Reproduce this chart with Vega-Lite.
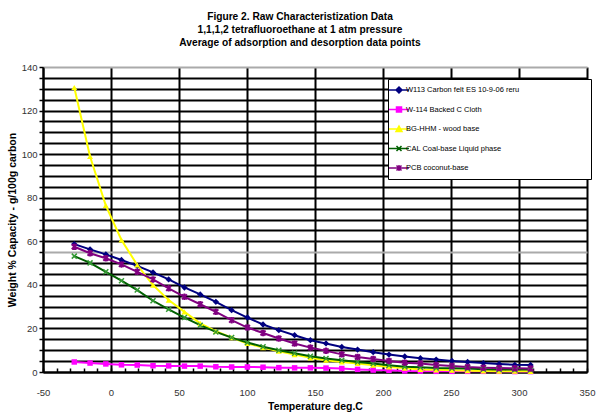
{
  "$schema": "https://vega.github.io/schema/vega-lite/v6.json",
  "width": 544,
  "height": 305,
  "autosize": {"type": "none"},
  "padding": {"left": 43, "top": 67, "right": 13, "bottom": 41},
  "background": "white",
  "config": {"view": {"stroke": null}, "font": "Liberation Sans"},
  "title": {
    "text": ["Figure 2. Raw Characteristization Data", "1,1,1,2 tetrafluoroethane at 1 atm pressure", "Average of adsorption and desorption data points"],
    "fontSize": 10.2, "fontWeight": "bold", "font": "Liberation Sans", "color": "black",
    "anchor": "middle", "frame": "group", "dx": -15, "offset": 14, "lineHeight": 13
  },
  "data": {"values": [
    {"t": -27, "W113 Carbon felt ES 10-9-06 reru": 58.7, "W-114 Backed C Cloth": 4.6, "BG-HHM - wood base": 130.6, "CAL Coal-base Liquid phase": 53.2, "PCB coconut-base": 57.5},
    {"t": -15.4, "W113 Carbon felt ES 10-9-06 reru": 56.3, "W-114 Backed C Cloth": 4.1, "BG-HHM - wood base": 98.9, "CAL Coal-base Liquid phase": 50.1, "PCB coconut-base": 54.5},
    {"t": -3.8, "W113 Carbon felt ES 10-9-06 reru": 54.0, "W-114 Backed C Cloth": 3.7, "BG-HHM - wood base": 76.4, "CAL Coal-base Liquid phase": 46.0, "PCB coconut-base": 52.2},
    {"t": 7.7, "W113 Carbon felt ES 10-9-06 reru": 51.4, "W-114 Backed C Cloth": 3.3, "BG-HHM - wood base": 60.6, "CAL Coal-base Liquid phase": 41.9, "PCB coconut-base": 49.4},
    {"t": 19.3, "W113 Carbon felt ES 10-9-06 reru": 48.7, "W-114 Backed C Cloth": 3.2, "BG-HHM - wood base": 49.1, "CAL Coal-base Liquid phase": 37.6, "PCB coconut-base": 46.0},
    {"t": 30.9, "W113 Carbon felt ES 10-9-06 reru": 45.7, "W-114 Backed C Cloth": 2.9, "BG-HHM - wood base": 39.9, "CAL Coal-base Liquid phase": 32.7, "PCB coconut-base": 42.5},
    {"t": 42.4, "W113 Carbon felt ES 10-9-06 reru": 42.5, "W-114 Backed C Cloth": 2.8, "BG-HHM - wood base": 33.0, "CAL Coal-base Liquid phase": 28.8, "PCB coconut-base": 38.4},
    {"t": 54.0, "W113 Carbon felt ES 10-9-06 reru": 38.8, "W-114 Backed C Cloth": 2.7, "BG-HHM - wood base": 27.6, "CAL Coal-base Liquid phase": 25.0, "PCB coconut-base": 34.5},
    {"t": 65.6, "W113 Carbon felt ES 10-9-06 reru": 35.6, "W-114 Backed C Cloth": 2.7, "BG-HHM - wood base": 22.3, "CAL Coal-base Liquid phase": 21.5, "PCB coconut-base": 31.1},
    {"t": 77.1, "W113 Carbon felt ES 10-9-06 reru": 32.2, "W-114 Backed C Cloth": 2.4, "BG-HHM - wood base": 18.7, "CAL Coal-base Liquid phase": 18.4, "PCB coconut-base": 27.6},
    {"t": 88.7, "W113 Carbon felt ES 10-9-06 reru": 28.4, "W-114 Backed C Cloth": 2.3, "BG-HHM - wood base": 15.8, "CAL Coal-base Liquid phase": 15.8, "PCB coconut-base": 23.8},
    {"t": 100.3, "W113 Carbon felt ES 10-9-06 reru": 25.0, "W-114 Backed C Cloth": 2.3, "BG-HHM - wood base": 13.1, "CAL Coal-base Liquid phase": 13.5, "PCB coconut-base": 20.4},
    {"t": 111.8, "W113 Carbon felt ES 10-9-06 reru": 21.8, "W-114 Backed C Cloth": 2.2, "BG-HHM - wood base": 11.2, "CAL Coal-base Liquid phase": 11.6, "PCB coconut-base": 17.9},
    {"t": 123.4, "W113 Carbon felt ES 10-9-06 reru": 19.2, "W-114 Backed C Cloth": 2.0, "BG-HHM - wood base": 9.5, "CAL Coal-base Liquid phase": 10.0, "PCB coconut-base": 15.4},
    {"t": 135.0, "W113 Carbon felt ES 10-9-06 reru": 16.9, "W-114 Backed C Cloth": 1.9, "BG-HHM - wood base": 8.0, "CAL Coal-base Liquid phase": 8.6, "PCB coconut-base": 13.1},
    {"t": 146.6, "W113 Carbon felt ES 10-9-06 reru": 14.6, "W-114 Backed C Cloth": 1.9, "BG-HHM - wood base": 6.5, "CAL Coal-base Liquid phase": 7.2, "PCB coconut-base": 11.2},
    {"t": 158.1, "W113 Carbon felt ES 10-9-06 reru": 13.1, "W-114 Backed C Cloth": 1.8, "BG-HHM - wood base": 5.4, "CAL Coal-base Liquid phase": 6.2, "PCB coconut-base": 9.7},
    {"t": 169.7, "W113 Carbon felt ES 10-9-06 reru": 11.5, "W-114 Backed C Cloth": 1.6, "BG-HHM - wood base": 4.6, "CAL Coal-base Liquid phase": 5.4, "PCB coconut-base": 8.1},
    {"t": 181.3, "W113 Carbon felt ES 10-9-06 reru": 10.3, "W-114 Backed C Cloth": 1.2, "BG-HHM - wood base": 3.9, "CAL Coal-base Liquid phase": 4.6, "PCB coconut-base": 6.9},
    {"t": 192.8, "W113 Carbon felt ES 10-9-06 reru": 9.1, "W-114 Backed C Cloth": 0.9, "BG-HHM - wood base": 3.1, "CAL Coal-base Liquid phase": 3.9, "PCB coconut-base": 6.0},
    {"t": 204.4, "W113 Carbon felt ES 10-9-06 reru": 8.0, "W-114 Backed C Cloth": 0.8, "BG-HHM - wood base": 2.3, "CAL Coal-base Liquid phase": 3.1, "PCB coconut-base": 5.1},
    {"t": 216.0, "W113 Carbon felt ES 10-9-06 reru": 7.1, "W-114 Backed C Cloth": 0.5, "BG-HHM - wood base": 1.8, "CAL Coal-base Liquid phase": 2.4, "PCB coconut-base": 4.3},
    {"t": 227.5, "W113 Carbon felt ES 10-9-06 reru": 6.3, "W-114 Backed C Cloth": 0.4, "BG-HHM - wood base": 1.2, "CAL Coal-base Liquid phase": 2.2, "PCB coconut-base": 3.9},
    {"t": 239.1, "W113 Carbon felt ES 10-9-06 reru": 5.7, "W-114 Backed C Cloth": 0.3, "BG-HHM - wood base": 1.0, "CAL Coal-base Liquid phase": 1.8, "PCB coconut-base": 3.2},
    {"t": 250.7, "W113 Carbon felt ES 10-9-06 reru": 5.1, "W-114 Backed C Cloth": 0.3, "BG-HHM - wood base": 0.8, "CAL Coal-base Liquid phase": 1.7, "PCB coconut-base": 2.8},
    {"t": 262.2, "W113 Carbon felt ES 10-9-06 reru": 4.6, "W-114 Backed C Cloth": 0.3, "BG-HHM - wood base": 0.6, "CAL Coal-base Liquid phase": 1.6, "PCB coconut-base": 2.3},
    {"t": 273.8, "W113 Carbon felt ES 10-9-06 reru": 4.1, "W-114 Backed C Cloth": 0.3, "BG-HHM - wood base": 0.5, "CAL Coal-base Liquid phase": 1.3, "PCB coconut-base": 2.0},
    {"t": 285.4, "W113 Carbon felt ES 10-9-06 reru": 3.7, "W-114 Backed C Cloth": 0.3, "BG-HHM - wood base": 0.4, "CAL Coal-base Liquid phase": 1.2, "PCB coconut-base": 1.8},
    {"t": 296.9, "W113 Carbon felt ES 10-9-06 reru": 3.3, "W-114 Backed C Cloth": 0.2, "BG-HHM - wood base": 0.4, "CAL Coal-base Liquid phase": 1.1, "PCB coconut-base": 1.7},
    {"t": 308.5, "W113 Carbon felt ES 10-9-06 reru": 3.2, "W-114 Backed C Cloth": 0.2, "BG-HHM - wood base": 0.3, "CAL Coal-base Liquid phase": 1.1, "PCB coconut-base": 1.6}
  ]},
  "transform": [
    {"fold": ["W113 Carbon felt ES 10-9-06 reru", "W-114 Backed C Cloth", "BG-HHM - wood base", "CAL Coal-base Liquid phase", "PCB coconut-base"], "as": ["series", "v"]}
  ],
  "encoding": {
    "x": {
      "field": "t", "type": "quantitative",
      "scale": {"domain": [-50, 350], "nice": false, "zero": false},
      "axis": {
        "values": [-50,-40,-30,-20,-10,0,10,20,30,40,50,60,70,80,90,100,110,120,130,140,150,160,170,180,190,200,210,220,230,240,250,260,270,280,290,300,310,320,330,340,350],
        "labelExpr": "datum.value % 50 === 0 ? '' + datum.value : ''",
        "labelFlush": false, "labelOverlap": false,
        "grid": true, "gridColor": "black", "gridWidth": 2,
        "gridOpacity": {"condition": {"test": "datum.value % 50 === 0", "value": 1}, "value": 0},
        "domainColor": "black", "domainWidth": 2,
        "tickColor": "black", "tickWidth": 1.5, "tickSize": -4,
        "labelFont": "Liberation Sans", "labelFontSize": 9.5, "labelColor": "#333333", "labelPadding": 19,
        "title": "Temperature deg.C", "titleFont": "Liberation Sans", "titleFontSize": 10.5, "titleFontWeight": "bold", "titleColor": "black", "titlePadding": 5
      }
    },
    "y": {
      "field": "v", "type": "quantitative",
      "scale": {"domain": [0, 140], "nice": false},
      "axis": {
        "values": [0,5,10,15,20,25,30,35,40,45,50,55,60,65,70,75,80,85,90,95,100,105,110,115,120,125,130,135,140],
        "labelExpr": "datum.value % 20 === 0 ? datum.label : ''",
        "grid": true, "gridWidth": 2,
        "gridColor": {"condition": {"test": "datum.value === 140 || datum.value === 55", "value": "#aaaaaa"}, "value": "black"},
        "domainColor": "black", "domainWidth": 2,
        "tickColor": "black", "tickWidth": 1.5, "tickSize": 4,
        "labelFont": "Liberation Sans", "labelFontSize": 9.5, "labelColor": "#333333", "labelPadding": 2,
        "title": "Weight % Capacity - g/100g carbon", "titleFont": "Liberation Sans", "titleFontSize": 10.5, "titleFontWeight": "bold", "titleColor": "black", "titlePadding": 4
      }
    }
  },
  "layer": [
    {
      "mark": {"type": "line", "strokeWidth": 2},
      "encoding": {
        "color": {
          "field": "series", "type": "nominal",
          "scale": {"domain": ["W113 Carbon felt ES 10-9-06 reru", "W-114 Backed C Cloth", "BG-HHM - wood base", "CAL Coal-base Liquid phase", "PCB coconut-base"], "range": ["#000080", "#FF00FF", "#FFFF00", "#006000", "#800080"]},
          "legend": {
            "orient": "none", "legendX": 345, "legendY": 12, "title": null,
            "fillColor": "white", "strokeColor": "black", "padding": 5,
            "labelFont": "Liberation Sans", "labelFontSize": 7.5, "labelColor": "black", "labelOffset": 1, "labelLimit": 400,
            "labelExpr": "datum.label + '\u00a0\u00a0\u00a0\u00a0\u00a0\u00a0\u00a0\u00a0\u00a0\u00a0\u00a0\u00a0\u00a0\u00a0\u00a0\u00a0\u00a0\u00a0\u00a0\u00a0\u00a0\u00a0\u00a0\u00a0\u00a0\u00a0\u00a0\u00a0\u00a0\u00a0\u00a0\u00a0\u200b'",
            "symbolSize": 100, "rowPadding": 7.5,
            "encode": {"symbols": {"update": {
              "shape": {"signal": "datum.value === 'W113 Carbon felt ES 10-9-06 reru' ? 'M-2,0L2,0M0,-0.6L0.6,0L0,0.6L-0.6,0Z' : datum.value === 'W-114 Backed C Cloth' ? 'M-2,0L2,0M-0.5,-0.5L0.5,-0.5L0.5,0.5L-0.5,0.5Z' : datum.value === 'BG-HHM - wood base' ? 'M-2,0L2,0M0,-0.6L0.6,0.5L-0.6,0.5Z' : datum.value === 'CAL Coal-base Liquid phase' ? 'M-2,0L2,0M-0.5,-0.5L0.5,0.5M-0.5,0.5L0.5,-0.5' : 'M-2,0L2,0M-0.5,-0.5L0.5,0.5M-0.5,0.5L0.5,-0.5M0,-0.6L0,0.6'"},
              "fill": {"signal": "scale('color', datum.value)"},
              "stroke": {"signal": "scale('color', datum.value)"}
            }}}
          }
        },
        "order": {"field": "t", "type": "quantitative"}
      }
    },
    {
      "transform": [{"filter": {"field": "series", "equal": "W113 Carbon felt ES 10-9-06 reru"}}],
      "mark": {"type": "point", "shape": "diamond", "size": 40, "filled": true, "color": "#000080", "opacity": 1}
    },
    {
      "transform": [{"filter": {"field": "series", "equal": "W-114 Backed C Cloth"}}],
      "mark": {"type": "point", "shape": "square", "size": 30, "filled": true, "color": "#FF00FF", "opacity": 1}
    },
    {
      "transform": [{"filter": {"field": "series", "equal": "BG-HHM - wood base"}}],
      "mark": {"type": "point", "shape": "triangle-up", "size": 35, "filled": true, "color": "#FFFF00", "opacity": 1}
    },
    {
      "transform": [{"filter": {"field": "series", "equal": "CAL Coal-base Liquid phase"}}],
      "mark": {"type": "point", "shape": "M-1,-1L1,1M-1,1L1,-1", "size": 25, "filled": false, "color": "#339933", "strokeWidth": 1.5, "opacity": 1}
    },
    {
      "transform": [{"filter": {"field": "series", "equal": "PCB coconut-base"}}],
      "mark": {"type": "point", "shape": "M-1,-1L1,1M-1,1L1,-1M0,-1.3L0,1.3", "size": 25, "filled": false, "color": "#800080", "strokeWidth": 2, "opacity": 1}
    }
  ]
}
